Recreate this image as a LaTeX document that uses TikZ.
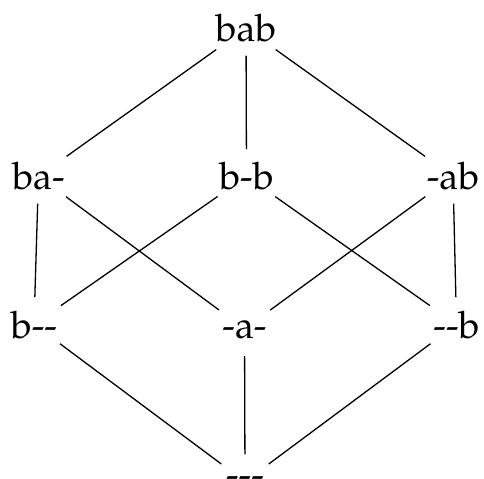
\documentclass[tikz,border=0pt]{standalone}
\usepackage[T1]{fontenc}
\usepackage{mathpazo}
\usepackage{tikz}
\usetikzlibrary{shapes.geometric}

\begin{document}
\begin{tikzpicture}[x=1bp, y=-1bp,
    elem/.style={ellipse, inner sep=3bp, minimum height=54bp, anchor=base,
                 font=\fontsize{38}{46}\selectfont},
    cover/.style={line width=1.3bp},
]
    \useasboundingbox (0,0) rectangle (484,479);

    % Top
    \node[elem] (top) at (246,42) {bab};

    % Second row
    \node[elem] (left1) at (38.5,190) {ba-};
    \node[elem] (mid1) at (246.5,190) {b-b};
    \node[elem] (right1) at (453,190) {-ab};

    % Third row
    \node[elem] (left2) at (34,338) {b-{}-};
    \node[elem] (mid2) at (244.5,338) {-a-};
    \node[elem] (right2) at (456.5,338) {-{}-b};

    % Bottom
    \node[elem] (bottom) at (245,487) {-{}-{}-};

    % Cover relations
    \foreach \u/\v in {top/left1, top/mid1, top/right1,
                       left1/left2, left1/mid2, mid1/left2, mid1/right2,
                       right1/mid2, right1/right2,
                       left2/bottom, mid2/bottom, right2/bottom} {
        \draw[cover] (\u) -- (\v);
    }
\end{tikzpicture}
\end{document}
